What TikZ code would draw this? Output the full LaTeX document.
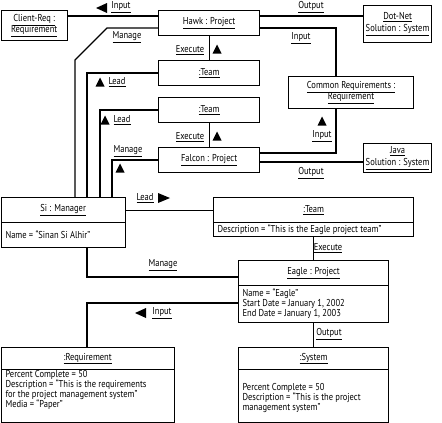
\documentclass[tikz,border=0pt]{standalone}
\usepackage{fontspec}
\setmainfont{PT Sans}[FakeStretch=0.85]
\usetikzlibrary{calc}
\begin{document}
\begin{tikzpicture}[x=1pt,y=-1pt,line width=1.1pt,
  box/.style={draw,line width=1.2pt,anchor=north west,inner sep=0pt,
    font=\fontsize{10}{11.5}\selectfont,align=center},
  lbl/.style={inner sep=0pt,font=\fontsize{10}{11}\selectfont},
  attr/.style={inner sep=0pt,anchor=north west,align=left,
    font=\fontsize{10}{10}\selectfont},
  tup/.pic={\fill (-4.5,4.5) -- (4.5,4.5) -- (0,-4.5) -- cycle;},
  tleft/.pic={\fill (5,-5) -- (5,5) -- (-6,0) -- cycle;},
  tright/.pic={\fill (-6,-5) -- (-6,5) -- (6,0) -- cycle;}]
\useasboundingbox (0,0) rectangle (442,423);

% boxes
\node[box,minimum width=66,minimum height=30] (clientreq) at (0.6,10)
  {\underline{Client-Req :}\\\underline{Requirement}};
\node[box,minimum width=101,minimum height=25] (hawk) at (158,10)
  {\underline{Hawk : Project}};
\node[box,minimum width=68,minimum height=37] (dotnet) at (363,5)
  {\underline{Dot-Net}\\\underline{Solution : System}};
\node[box,minimum width=101,minimum height=25] (team1) at (158,60)
  {\underline{:Team}};
\node[box,minimum width=125,minimum height=32] (commonreq) at (288,76)
  {\underline{Common Requirements :}\\\underline{Requirement}};
\node[box,minimum width=101,minimum height=25] (team2) at (158,97)
  {\underline{:Team}};
\node[box,minimum width=101,minimum height=25] (falcon) at (158,147)
  {\underline{Falcon : Project}};
\node[box,minimum width=68,minimum height=29] (java) at (363,143)
  {\underline{Java}\\\underline{Solution : System}};
\node[box,minimum width=124,minimum height=25] (si) at (0.6,197)
  {\underline{Si : Manager}};
\node[box,minimum width=124,minimum height=25] (siattr) at (0.6,222) {};
\node[attr,anchor=west] (siattrt) at (5,234.5) {Name = “Sinan Si Alhir”};
\node[box,minimum width=200,minimum height=25] (team3) at (213,197)
  {\underline{:Team}};
\node[box,minimum width=200,minimum height=14] (team3attr) at (213,222) {};
\node[attr,anchor=west] (team3attrt) at (217,229.5)
  {Description = “This is the Eagle project team”};
\node[box,minimum width=150,minimum height=25] (eagle) at (238,260)
  {\underline{Eagle : Project}};
\node[box,minimum width=150,minimum height=37] (eagleattr) at (238,285) {};
\node[attr] (eagleattrt) at (242,288.5)
  {Name = “Eagle”\\Start Date = January 1, 2002\\End Date = January 1, 2003};
\node[box,minimum width=173,minimum height=22] (req) at (0.6,347)
  {\underline{:Requirement}};
\node[box,minimum width=173,minimum height=53.4] (reqattr) at (0.6,369) {};
\node[attr] (reqattrt) at (5,370)
  {Percent Complete = 50\\Description = “This is the requirements\\for the project management system”\\Media = “Paper”};
\node[box,minimum width=150,minimum height=22] (sys) at (238,347)
  {\underline{:System}};
\node[box,minimum width=150,minimum height=53.4] (sysattr) at (238,369) {};
\node[attr] (sysattrt) at (242,383)
  {Percent Complete = 50\\Description = “This is the project\\management system”};

% bend points
\coordinate (b0) at (0,16);
\coordinate (b1) at (107,28);
\coordinate (b2) at (75,60);
\coordinate (b3) at (336,28);
\coordinate (b4) at (87,73);
\coordinate (b5) at (100,110);
\coordinate (b6) at (112,160);
\coordinate (b7) at (336,153);
\coordinate (b8) at (0,162);
\coordinate (b11) at (87,277);
\coordinate (b12) at (87,303);

% connectors
\draw (clientreq.east |- b0) -- (hawk.west |- b0);
\draw (hawk.east |- b0) -- (dotnet.west |- b0);
\draw (hawk.west |- b1) -- (b1) -- (b2) -- (b2 |- si.north);
\draw (hawk.east |- b3) -- (b3) -- (b3 |- commonreq.north);
\draw (hawk.south) -- (team1.north);
\draw (team1.west |- b4) -- (b4) -- (b4 |- si.north);
\draw (team2.west |- b5) -- (b5) -- (b5 |- si.north);
\draw (team2.south) -- (falcon.north);
\draw (falcon.west |- b6) -- (b6) -- (b6 |- si.north);
\draw (commonreq.south -| b7) -- (b7) -- (falcon.east |- b7);
\draw (falcon.east |- b8) -- (java.west |- b8);
\draw (si.east) -- (team3.west);
\draw (team3attr.south) -- (eagle.north);
\draw (siattr.south -| b11) -- (b11) -- (eagle.west |- b11);
\draw (eagleattr.west |- b12) -- (b12) -- (req.north -| b12);
\draw (eagleattr.south) -- (sys.north);

% labels
\node[lbl] (l1) at (121,7) {\underline{Input}};
\pic at (102,8) {tleft};
\node[lbl] (l2) at (311,7) {\underline{Output}};
\node[lbl] (l3) at (127,37) {\underline{Manage}};
\node[lbl] (l4) at (301,38) {\underline{Input}};
\node[lbl] (l5) at (190,50) {\underline{Execute}};
\pic at (217,49) {tup};
\pic at (100,82) {tup};
\node[lbl] (l6) at (117,82) {\underline{Lead}};
\pic at (105,120) {tup};
\node[lbl] (l7) at (122,120) {\underline{Lead}};
\node[lbl] (l8) at (190,137) {\underline{Execute}};
\pic at (217,136) {tup};
\pic at (322,121) {tup};
\node[lbl] (l9) at (322,136) {\underline{Input}};
\node[lbl] (l10) at (128,151) {\underline{Manage}};
\pic at (120,168) {tup};
\node[lbl] (l11) at (311,173) {\underline{Output}};
\node[lbl] (l12) at (145,198) {\underline{Lead}};
\pic at (164,198) {tright};
\node[lbl] (l13) at (328,248) {\underline{Execute}};
\node[lbl] (l14) at (163,265) {\underline{Manage}};
\pic at (141,313) {tleft};
\node[lbl] (l15) at (162,313) {\underline{Input}};
\node[lbl] (l16) at (329,334) {\underline{Output}};
\end{tikzpicture}
\end{document}
